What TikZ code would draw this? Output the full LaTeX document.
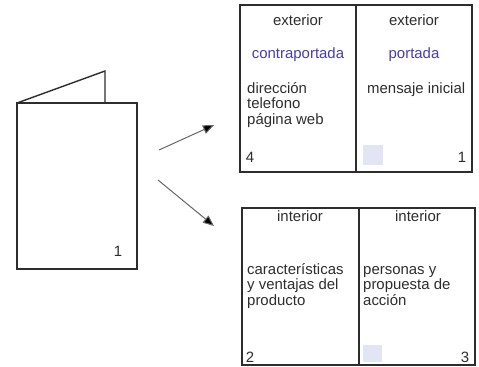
\documentclass[tikz,border=0pt]{standalone}
\usepackage{fontspec}
\setmainfont{Liberation Sans}
\usetikzlibrary{arrows.meta}
\definecolor{titleblue}{RGB}{70,60,175}
\definecolor{smudge}{RGB}{226,229,243}
\definecolor{ink}{RGB}{45,45,45}
\begin{document}
\begin{tikzpicture}[x=1bp,y=-1bp,
  panel/.style={draw=ink, line width=1.4bp},
  txt/.style={font=\fontsize{15}{15.5}\selectfont, inner sep=0pt, text=ink, align=left},
  head/.style={txt, anchor=base},
  blue/.style={txt, anchor=base, text=titleblue},
  body/.style={txt, anchor=base west},
  num/.style={txt, anchor=base},
  arr/.style={draw=black!60, line width=1bp, -{Triangle[length=11bp,width=9bp,fill=black]}}]
\useasboundingbox (0,0) rectangle (479,366);
% folded brochure
\draw[panel] (17,103) rectangle (137,269);
\draw[panel] (17,103) -- (105,71) -- (105,103);
\node[num] (n1a) at (118,256) {1};
% arrows
\coordinate (a1s) at (159,150);
\coordinate (a1e) at (214,125);
\coordinate (a2s) at (158,180);
\coordinate (a2e) at (214,226);
\draw[arr] (a1s) -- (a1e);
\draw[arr] (a2s) -- (a2e);
% exterior box
\fill[smudge] (363,145) rectangle (383,165);
\draw[panel] (240,5) rectangle (472,172);
\draw[panel] (356,5) -- (356,172);
\node[head] (ex1) at (298,25) {exterior};
\node[head] (ex2) at (414,25) {exterior};
\node[blue] (cp) at (298,58) {contraportada};
\node[blue] (pt) at (414,58) {portada};
\node[body] (dir) at (247,124) {dirección\\telefono\\página web};
\node[body] (msg) at (367,93) {mensaje inicial};
\node[num] (n4) at (250,162) {4};
\node[num] (n1) at (462,162) {1};
% interior box
\fill[smudge] (363,345) rectangle (382,362);
\draw[panel] (242,208) rectangle (475,365);
\draw[panel] (359,208) -- (359,365);
\node[head] (in1) at (300,221) {interior};
\node[head] (in2) at (418,221) {interior};
\node[body] (car) at (247,305) {características\\y ventajas del\\producto};
\node[body] (per) at (363,305) {personas y\\propuesta de\\acción};
\node[num] (n2) at (250,362) {2};
\node[num] (n3) at (465,362) {3};
\end{tikzpicture}
\end{document}
